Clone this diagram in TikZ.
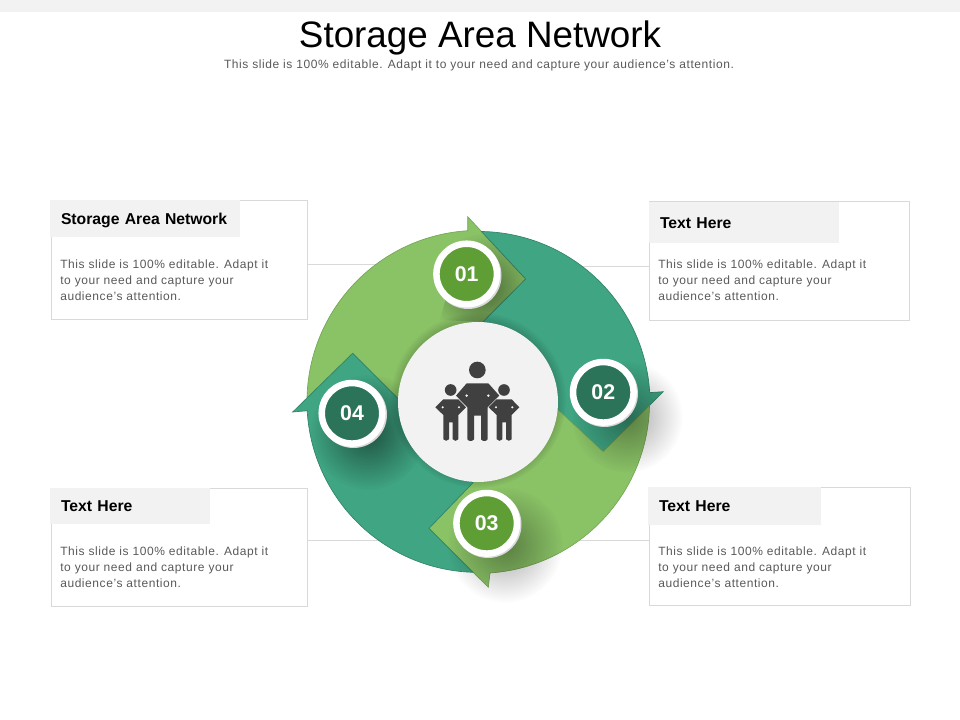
\documentclass[tikz,border=0pt]{standalone}
\usepackage{fontspec}
\setmainfont{Liberation Sans}
\newfontfamily\spacedfont[LetterSpace=4.8]{Liberation Sans}
\usetikzlibrary{fadings}
\definecolor{leafgreen}{HTML}{8AC266}
\definecolor{seagreen}{HTML}{3FA583}
\definecolor{leafdark}{HTML}{5F9E35}
\definecolor{seadark}{HTML}{2C7459}
\definecolor{panelgrey}{HTML}{F2F2F2}
\definecolor{linegrey}{HTML}{D9D9D9}
\definecolor{iconblack}{HTML}{404040}
\tikzfading[name=softblob,inner color=transparent!0,outer color=transparent!100]
\tikzset{
  boxframe/.style={draw=linegrey,line width=.6pt,anchor=north west,inner sep=0pt,outer sep=0pt},
  headbox/.style={fill=panelgrey,anchor=north west,inner xsep=8.25pt,inner ysep=0pt,outer sep=0pt,text width=#1,text height=10pt,text depth=1pt,align=left,font=\fontsize{11.8}{14}\selectfont\bfseries,text=black},
  bodytext/.style={anchor=west,inner sep=0pt,align=left,font=\spacedfont\fontsize{9}{12}\selectfont,text=black!65},
  joinline/.style={draw=linegrey,line width=.6pt},
  numdisc/.style={circle,draw=white,line width=4.9pt,minimum size=45.4pt,inner sep=0pt,text=white,font=\fontsize{16}{18}\selectfont\bfseries},
  softshadow/.style={black,opacity=#1,path fading=softblob},
}
\begin{document}
\begin{tikzpicture}[x=.75pt,y=.75pt]
    \useasboundingbox (0,0) rectangle (960,720);
    \fill[panelgrey] (0,708) rectangle (960,720);
    % title
    \node (title) at (480,682.5) {\fontsize{27.6}{30}\selectfont Storage Area Network};
    \node[text=black!65] (subtitle) at (479,654.5) {\spacedfont\fontsize{9}{11}\selectfont This slide is 100\% editable. Adapt it to your need and capture your audience’s attention.};
    % boxes
    \node[boxframe,minimum width=192.4pt,minimum height=89.6pt] (boxa) at (51,520) {};
    \node[boxframe,minimum width=195.2pt,minimum height=89.3pt] (boxb) at (649.5,519) {};
    \node[boxframe,minimum width=192.4pt,minimum height=88.5pt] (boxc) at (51,232) {};
    \node[boxframe,minimum width=195.8pt,minimum height=88.5pt] (boxd) at (649,233) {};
    \node[headbox=126pt,minimum height=28.1pt] (heada) at (50,520) {\mbox{Storage Area Network}};
    \node[headbox=126pt,minimum height=30.7pt] (headb) at (649,518) {Text Here};
    \node[headbox=103.5pt,minimum height=27pt] (headc) at (50,232) {Text Here};
    \node[headbox=113.2pt,minimum height=28.5pt] (headd) at (648,233) {Text Here};
    \node[bodytext] (texta) at (60,440) {This slide is 100\% editable. Adapt it\\to your need and capture your\\audience’s attention.};
    \node[bodytext] (textb) at (658,440) {This slide is 100\% editable. Adapt it\\to your need and capture your\\audience’s attention.};
    \node[bodytext] (textc) at (60,153) {This slide is 100\% editable. Adapt it\\to your need and capture your\\audience’s attention.};
    \node[bodytext] (textd) at (658,153) {This slide is 100\% editable. Adapt it\\to your need and capture your\\audience’s attention.};
    \coordinate (joina) at (380,456);
    \coordinate (joinb) at (580,454);
    \coordinate (joinc) at (380,180);
    \coordinate (joind) at (580,180);
    \draw[joinline] (boxa.east |- joina) -- (joina);
    \draw[joinline] (boxb.west |- joinb) -- (joinb);
    \draw[joinline] (boxc.east |- joinc) -- (joinc);
    \draw[joinline] (boxd.west |- joind) -- (joind);
    % ring of four arrows
    \coordinate (hub) at (478,318);
    \draw[fill=leafgreen,draw=leafgreen!85!black,line width=.5pt] (307,322) arc[start angle=178.7,end angle=93.6,radius=171.5]
        -- (467.7,503.3) -- (525.7,441) -- (483,398) -- (hub) -- (397.3,322) -- (352.7,366.7) -- cycle;
    \draw[fill=seagreen,draw=seagreen!80!black,line width=.5pt] (481.5,488.5) arc[start angle=89,end angle=3.45,radius=171.5]
        -- (663.3,328.3) -- (603.3,268.3) -- (558.3,310) -- (hub) -- (483,398) -- (525.7,441) -- cycle;
    \draw[fill=leafgreen,draw=leafgreen!85!black,line width=.5pt] (649.5,314.5) arc[start angle=-1.2,end angle=-86,radius=171.5]
        -- (488.3,132.7) -- (429,191.7) -- (473,237.3) -- (hub) -- (558.3,310) -- (603.3,268.3) -- cycle;
    \draw[fill=seagreen,draw=seagreen!80!black,line width=.5pt] (473,147.7) arc[start angle=-91.8,end angle=-176.7,radius=171.5]
        -- (292.7,308) -- (352.7,366.7) -- (397.3,322) -- (hub) -- (473,237.3) -- (429,191.7) -- cycle;
    % shadows under the numbers
    \begin{scope}
      \clip (467.7,503.3) -- (525.7,441) -- (483,398) -- (440,400) -- cycle;
      \fill[softshadow=.45] (484,432) circle (55);
    \end{scope}
    \fill[softshadow=.35] (627,303) circle (56);
    \fill[softshadow=.5] (368,288) circle (58);
    \fill[softshadow=.35] (505,175) circle (58);
    % middle disc with people
    \fill[black,opacity=.3,path fading=circle with fuzzy edge 20 percent] (478,320) circle (88);
    \node[circle,fill=panelgrey,minimum size=120pt,inner sep=0pt] (middle) at (hub) {};
    \begin{scope}[shift={(420,370)},x=.25pt,y=-.25pt]
      \fill[iconblack] (172,60) circle (25);
      \fill[iconblack] (140,100) -- (205,100) -- (238,137) -- (203,172) -- (203,268) to[bend left=60] (183,268) -- (183,197) -- (162,197) -- (162,268) to[bend left=60] (142,268) -- (142,172) -- (108,137) -- cycle;
      \foreach \px in {140,205}
        \fill[panelgrey] (\px,137) circle (4);
      \foreach \kx in {0,160} {
        \fill[iconblack] (92+\kx,120) circle (17.5);
        \fill[iconblack] (70+\kx,148) -- (115+\kx,148) -- (138+\kx,172) -- (115+\kx,195) -- (115+\kx,268) to[bend left=60] (98+\kx,268) -- (98+\kx,217) -- (87+\kx,217) -- (87+\kx,268) to[bend left=60] (70+\kx,268) -- (70+\kx,195) -- (46+\kx,172) -- cycle;
        \fill[panelgrey] (68+\kx,172) circle (3.5);
        \fill[panelgrey] (117+\kx,172) circle (3.5);
      }
    \end{scope}
    % numbers
    \fill[linegrey] (468,444.5) circle (33.5);
    \fill[linegrey] (604.5,326.5) circle (33.5);
    \fill[linegrey] (488,195.5) circle (33.5);
    \fill[linegrey] (353.5,305.5) circle (33.5);
    \node[numdisc,fill=leafdark] (numa) at (466.7,446) {01};
    \node[numdisc,fill=seadark] (numb) at (603.3,327.7) {02};
    \node[numdisc,fill=leafdark] (numc) at (486.7,196.7) {03};
    \node[numdisc,fill=seadark] (numd) at (352,306.7) {04};
\end{tikzpicture}
\end{document}
